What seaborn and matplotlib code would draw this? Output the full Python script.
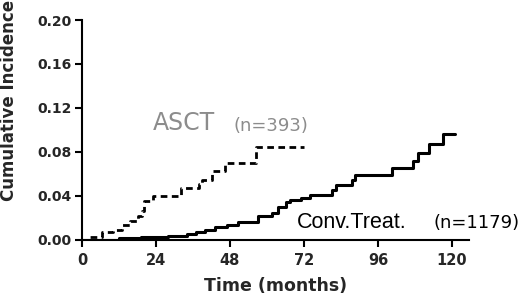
import matplotlib
matplotlib.use("Agg")
import matplotlib.pyplot as plt
import seaborn as sns
import pandas as pd

# ---- data ----
asct_time = [0, 2.5, 6.5, 10, 13, 15.5, 18, 19.5, 20, 23, 32, 38, 39, 42, 46.5, 56.5, 72]
asct_inc = [0, 0.0025, 0.0065, 0.009, 0.013, 0.017, 0.021, 0.026, 0.035, 0.040,
            0.047, 0.051, 0.054, 0.062, 0.070, 0.084, 0.084]

conv_time = [0, 12, 19, 28, 34, 37, 40, 43, 47, 50.5, 57, 61.5, 63.5, 66, 67.5, 71, 74,
             81, 82.5, 87.5, 88.5, 100.5, 107.5, 109, 112.5, 117, 121]
conv_inc = [0, 0.001, 0.002, 0.003, 0.005, 0.007, 0.009, 0.0115, 0.013, 0.016, 0.021,
            0.024, 0.030, 0.034, 0.036, 0.038, 0.041, 0.045, 0.050, 0.054, 0.059,
            0.065, 0.0715, 0.0785, 0.087, 0.096, 0.096]

x_ticks = [0, 24, 48, 72, 96, 120]
y_ticks = [0.00, 0.04, 0.08, 0.12, 0.16, 0.20]

sns.set_style("ticks")
plt.rcParams['font.family'] = ['DejaVu Sans']

fig = plt.figure(figsize=(5.2, 2.97), dpi=100)
ax = fig.add_axes([82 / 520, 57.5 / 297, 387.3 / 520, 219.5 / 297])

asct_df = pd.DataFrame({"t": asct_time, "v": asct_inc})
conv_df = pd.DataFrame({"t": conv_time, "v": conv_inc})

sns.lineplot(data=conv_df, x="t", y="v", drawstyle="steps-post", color="black",
             lw=2.2, ax=ax, estimator=None, sort=False)
sns.lineplot(data=asct_df, x="t", y="v", drawstyle="steps-post", color="black",
             lw=2.0, ax=ax, estimator=None, sort=False, linestyle=(0, (2.4, 1.6)))

ax.set_xlim(0, 125.6)
ax.set_ylim(0, 0.20)
ax.set_xticks(x_ticks)
ax.set_yticks(y_ticks)
ax.set_xticklabels([str(t) for t in x_ticks], fontsize=10.5, fontweight="bold")
ax.set_yticklabels([f"{t:.2f}" for t in y_ticks], fontsize=10, fontweight="bold")
ax.set_xlabel("")
ax.set_ylabel("")
sns.despine(ax=ax)
for s in ("left", "bottom"):
    ax.spines[s].set_linewidth(1.5)
    ax.spines[s].set_color("black")
ax.tick_params(axis="both", length=5, width=1.5, color="black", direction="out")
ax.tick_params(axis="y", pad=2.5)
ax.tick_params(axis="x", pad=4.5)

gray = "#8c8c8c"
ax.text(23, 0.0998, "ASCT", fontsize=17, color=gray, ha="left", va="baseline")
ax.text(49, 0.0990, "(n=393)", fontsize=13, color=gray, ha="left", va="baseline")
ax.text(69.7, 0.0105, "Conv.Treat.", fontsize=15.5, color="black", ha="left",
        va="baseline", family=["Liberation Sans", "DejaVu Sans"])
ax.text(113.9, 0.0105, "(n=1179)", fontsize=13, color="black", ha="left",
        va="baseline", clip_on=False)

fig.text(9 / 520, 1 - 100 / 297, "Cumulative Incidence", rotation=90, ha="center",
         va="center", fontsize=12, fontweight="bold")
fig.text(276 / 520, 1 - 286 / 297, "Time (months)", ha="center", va="center",
         fontsize=12.5, fontweight="bold")

fig.savefig("out.png", dpi=100)
